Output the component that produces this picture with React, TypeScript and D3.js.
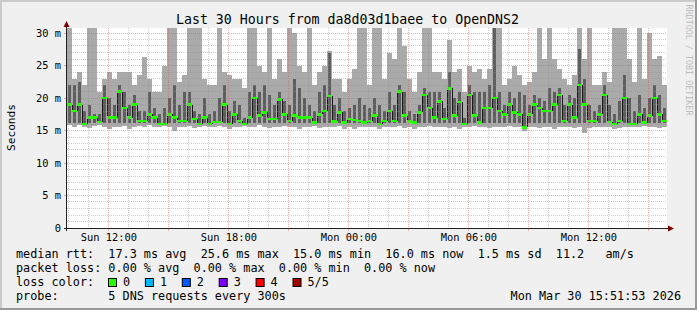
import React from "react";
import * as d3 from "d3";

// ---- data (15-minute columns, values in milliseconds) ----
const START = new Date(2026, 2, 29, 9, 56);
const END = new Date(2026, 2, 30, 15, 56);
const STEP_MIN = 15;

const hiMs: number[] = [
  31, 23, 24, 22, 31, 31, 21, 23, 24, 23, 24, 24, 24, 22, 23.5, 26.3, 23, 21, 21, 25,
  31, 31, 22.5, 23.5, 31, 31, 31, 23, 22, 22,
  31, 24, 23.5, 23, 23, 21.5, 31, 31, 25, 24, 31, 23, 26, 24, 31, 30, 25, 24, 31, 22,
  24, 25, 27.3, 23, 23, 21, 23, 24.5, 31, 31,
  22, 31, 31, 23, 27, 26, 31, 28, 23, 21, 24, 31, 31, 24, 24, 23, 29, 24, 24.5, 21,
  25, 24, 24.5, 23, 24.5, 31, 31, 22, 23, 25,
  23.5, 22, 22.5, 24, 31, 26, 31, 26, 24.5, 23, 22, 23.5, 31, 26, 31, 22, 22, 24, 22.5, 31,
  31, 31, 26, 22.5, 31, 23, 30, 26, 26.5, 22,
];

const innerHiMs: number[] = [
  22, 22, 22.5, 18, 19, 17.5, 17.5, 22, 20, 19, 22, 21, 19, 20.5, 18, 18, 21, 18.5, 17.5, 18.5,
  20, 22, 19, 21, 21, 18, 17.5, 20, 17.5, 18,
  20, 22, 18, 19.5, 19, 17, 21, 22, 21, 22, 20.5, 19, 21, 19.5, 19, 23, 21.5, 20, 19, 18,
  21, 22, 27, 19, 20, 18, 18.5, 19, 20, 19,
  18.5, 20, 19, 18, 21, 19, 22, 21, 18, 17.5, 19, 21.5, 21, 21, 21, 18.5, 24, 20, 21, 17,
  22, 21, 21, 21, 22, 31, 21, 19, 21, 20,
  21, 20.5, 19, 20.5, 20, 19.5, 21.5, 21, 21.5, 19, 20.5, 20, 27.5, 23, 19, 18, 19, 22, 19, 17.5,
  19.5, 23.5, 20, 18, 20.5, 18.5, 20, 22, 20.5, 18.5,
];

const medianMs: number[] = [
  19, 18, 19, 16, 17, 17, 16.3, 20, 17, 17, 21, 18.5, 17, 19, 16.5, 16.5, 17.5, 17, 16, 16,
  17.5, 17, 16.5, 16.5, 19, 16.8, 16, 17, 16, 16.3,
  16.3, 19, 16, 17.5, 16.5, 16, 17, 20, 17.3, 17.8, 16.8, 16.8, 19.8, 17.5, 16.5, 17.3, 17, 17, 17, 16.2,
  17.5, 18, 20.3, 16.4, 17.8, 16.2, 16.8, 16.6, 16.5, 16.2,
  16.5, 17.3, 16, 16.5, 18, 16.5, 21, 17.3, 16.4, 16.2, 17.8, 20.5, 18.5, 17, 19.5, 16.8, 21.5, 17.3, 19.4, 16,
  20.5, 17.3, 16.2, 18.5, 18.5, 20, 18, 17.5, 19, 17.8,
  17.5, 15.5, 17.5, 19, 18.5, 18, 18, 19, 20.5, 16.5, 19, 17, 22, 19, 16.5, 16.5, 17.5, 20.5, 16.3, 16,
  16.5, 20, 16, 16, 17.5, 16.2, 17.3, 20, 17.5, 16.5,
];

const loMs: number[] = [
  15.8, 15.5, 15.8, 15.6, 15.4, 15.7, 15.8, 15.6, 15.2, 15.6, 15.5, 15.7, 15.3, 15.6, 15.7, 15.6, 15.8, 15.5, 15.6, 15.7,
  15.5, 15.0, 15.6, 15.5, 15.7, 15.4, 15.6, 15.7, 15.5, 15.6,
  15.7, 15.6, 15.3, 15.6, 15.5, 15.7, 15.6, 15.5, 15.8, 15.6, 15.4, 15.6, 15.5, 15.7, 15.6, 15.5, 15.3, 15.6, 15.6, 15.7,
  15.4, 15.6, 15.5, 15.6, 15.7, 15.3, 15.6, 15.2, 15.5, 15.6,
  15.6, 15.5, 15.2, 15.6, 15.5, 15.6, 15.7, 15.4, 15.6, 15.3, 15.6, 15.5, 15.7, 15.6, 15.5, 15.6, 15.4, 15.6, 15.2, 15.6,
  15.5, 15.7, 15.6, 15.5, 15.4, 15.6, 15.5, 15.6, 15.7, 15.5,
  15.6, 15.0, 15.5, 15.6, 15.4, 15.6, 15.5, 15.2, 15.6, 15.5, 15.6, 15.4, 15.6, 14.6, 15.4, 15.6, 15.5, 15.6, 15.5, 15.3,
  15.4, 15.6, 15.5, 15.6, 15.5, 15.7, 15.6, 15.5, 15.4, 15.6,
];

const BASE_MS = 16.2;

const yTicks: number[] = [0, 5, 10, 15, 20, 25, 30];

const legendRows: string[] = [
  "median rtt:  17.3 ms avg  25.6 ms max  15.0 ms min  16.0 ms now  1.5 ms sd  11.2   am/s",
  "packet loss: 0.00 % avg  0.00 % max  0.00 % min  0.00 % now",
  "loss color:",
  "probe:       5 DNS requests every 300s",
];
const lossLabels: string[] = ["0", "1", "2", "3", "4", "5/5"];
const lossColors: string[] = ["#26ff00", "#00b8ff", "#0059ff", "#7e00ff", "#ff0000", "#a10000"];
const title = "Last 30 Hours from da8d03d1baee to OpenDNS2";
const stamp = "Mon Mar 30 15:51:53 2026";
const watermark = "RRDTOOL / TOBI OETIKER";

// ---- layout ----
const W = 697;
const H = 310;
const L = 67, R = 667, T = 28, B = 228;
const MONO = "'DejaVu Sans Mono', monospace";
const GRID = "rgba(143,143,143,0.46)";
const MGRID = "rgba(222,80,80,0.45)";

export default function App() {
  const x = d3.scaleTime().domain([START, END]).range([L, R]);
  const y = d3.scaleLinear().domain([0, (B - T) / 6.5]).range([B, T]);

  const times = medianMs.map((_, i) => d3.timeMinute.offset(START, i * STEP_MIN));
  const colX = (i: number) => x(d3.timeMinute.offset(START, i * STEP_MIN));

  const hours = d3.timeHour.range(START, END);
  const minorH = d3.range(1, 31);
  const snap = (v: number) => Math.floor(v) + 0.5;
  const fmt = d3.timeFormat("%a %H:%M");

  return (
    <svg width={W} height={H} style={{ position: "absolute", left: 0, top: 0, display: "block" }}>
      <defs>
        <clipPath id="plotclip">
          <rect x={L} y={T} width={R - L} height={B - T} />
        </clipPath>
      </defs>
      <rect x={0} y={0} width={W} height={H} fill="#f0f0f0" />
      <rect x={0} y={0} width={W} height={2} fill="#cbcbcb" />
      <rect x={0} y={0} width={2} height={H} fill="#cbcbcb" />
      <rect x={W - 2} y={0} width={2} height={H} fill="#999999" />
      <rect x={0} y={H - 2} width={W} height={2} fill="#999999" />
      <rect x={L} y={T} width={R - L} height={B - T} fill="#ffffff" />

      {/* smoke */}
      <g clipPath="url(#plotclip)" shapeRendering="crispEdges">
        {times.map((t, i) => {
          const x0 = colX(i);
          const x1 = colX(i + 1);
          return (
            <rect key={"o" + i} x={x0} y={y(hiMs[i])} width={x1 - x0}
              height={y(loMs[i]) - y(hiMs[i])} fill="#aaaaaa" />
          );
        })}
        {times.map((t, i) => {
          const x0 = colX(i);
          const x1 = colX(i + 1);
          const lo = Math.min(medianMs[i], BASE_MS);
          const w = (x1 - x0) * 0.6;
          return (
            <rect key={"i" + i} x={x0 + (x1 - x0 - w) / 2} y={y(innerHiMs[i])} width={w}
              height={y(lo) - y(innerHiMs[i])} fill="#5e5e5e" />
          );
        })}
        {times.map((t, i) => {
          if (i === 0) return null;
          const xx = colX(i);
          const a = y(medianMs[i - 1]);
          const b = y(medianMs[i]);
          return (
            <rect key={"c" + i} x={xx - 0.5} y={Math.min(a, b)} width={1.3}
              height={Math.abs(a - b)} fill="#1a1a1a" />
          );
        })}
        {times.map((t, i) => {
          const x0 = colX(i);
          const x1 = colX(i + 1);
          return (
            <rect key={"m" + i} x={x0} y={y(medianMs[i]) - 1.25} width={x1 - x0}
              height={2.5} fill={lossColors[0]} />
          );
        })}
      </g>

      {/* grid */}
      <g>
        {minorH.map((v) => (
          <line key={"h" + v} x1={L} x2={R} y1={snap(y(v))} y2={snap(y(v))}
            stroke={v % 5 === 0 ? MGRID : GRID} strokeDasharray="1,1" />
        ))}
        {hours.map((h) => {
          const xx = snap(x(h));
          const major = h.getHours() % 3 === 0;
          return (
            <line key={"v" + +h} x1={xx} x2={xx} y1={T} y2={B}
              stroke={major ? MGRID : GRID} strokeDasharray="1,1" />
          );
        })}
        {hours.filter((h) => h.getHours() % 3 === 0).map((h) => {
          const xx = snap(x(h));
          return <line key={"t" + +h} x1={xx} x2={xx} y1={B} y2={B + 3} stroke={MGRID} />;
        })}
        {yTicks.map((v) => (
          <line key={"yt" + v} x1={L - 3} x2={L} y1={snap(y(v))} y2={snap(y(v))} stroke={MGRID} />
        ))}
      </g>

      {/* axes */}
      <line x1={L - 0.5} x2={L - 0.5} y1={B + 3} y2={T - 3} stroke="#202020" />
      <line x1={L - 3} x2={R + 2} y1={B + 0.5} y2={B + 0.5} stroke="#202020" />
      <path d={`M${L - 3.5},${T - 1} L${L + 2.5},${T - 1} L${L - 0.5},${T - 7} Z`} fill="#7f0000" />
      <path d={`M${R + 1},${B - 2.5} L${R + 1},${B + 3.5} L${R + 7},${B + 0.5} Z`} fill="#7f0000" />

      {/* y labels */}
      {yTicks.map((v) => (
        <text key={"yl" + v} x={61} y={y(v) + 3.8} textAnchor="end" fontFamily={MONO}
          fontSize={10.4} fill="#000">{v === 0 ? "0" : `${v} m`}</text>
      ))}
      {/* x labels */}
      {hours.filter((h) => h.getHours() % 6 === 0).map((h) => (
        <text key={"xl" + +h} x={x(h) + 0.5} y={241} textAnchor="middle" fontFamily={MONO}
          fontSize={10.4} fill="#000">{fmt(h)}</text>
      ))}

      <text x={347.5} y={24} textAnchor="middle" fontFamily={MONO} fontSize={13.25} fill="#000">{title}</text>
      <text transform="translate(14.5,127.5) rotate(-90)" textAnchor="middle" fontFamily={MONO}
        fontSize={11.2} fill="#000">Seconds</text>
      <text transform="translate(685.5,60) rotate(90)" textAnchor="middle" fontFamily={MONO}
        fontSize={8.4} fill="#bdbdbd">{watermark}</text>

      {/* legend */}
      {legendRows.map((s, i) => (
        <text key={"lg" + i} x={16} y={258 + i * 14} fontFamily={MONO} fontSize={11.8}
          fill="#000" style={{ whiteSpace: "pre" }}>{s}</text>
      ))}
      {lossLabels.map((lab, i) => (
        <g key={"lc" + i}>
          <rect x={108.5 + i * 36.9} y={278.5} width={8} height={8} fill={lossColors[i]} stroke="#000" />
          <text x={123 + i * 36.9} y={286} fontFamily={MONO} fontSize={11.8} fill="#000">{lab}</text>
        </g>
      ))}
      <text x={681} y={300} textAnchor="end" fontFamily={MONO} fontSize={11.8} fill="#000">{stamp}</text>
    </svg>
  );
}
